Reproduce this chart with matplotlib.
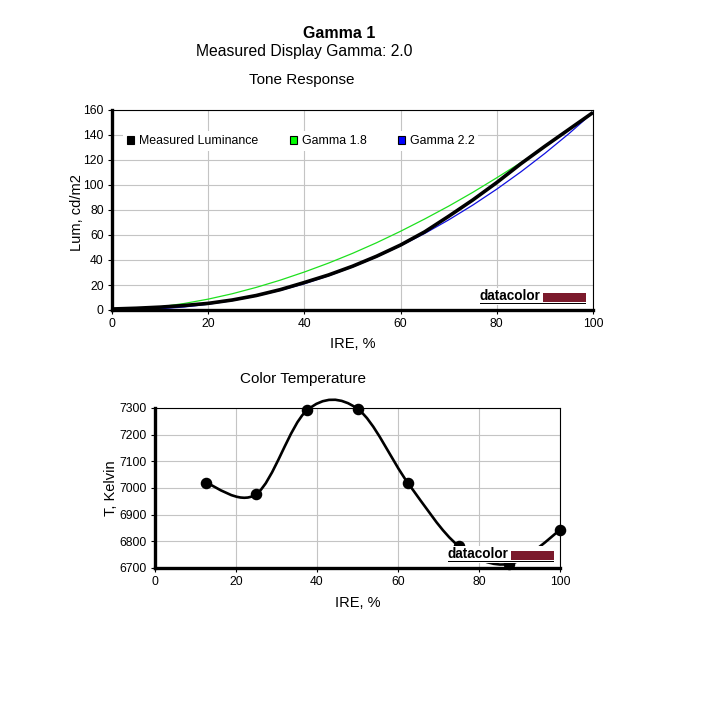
import numpy as np
import matplotlib.pyplot as plt
from matplotlib.patches import Patch, Rectangle, PathPatch
from matplotlib.path import Path

plt.rcParams['font.family'] = ['Liberation Sans', 'DejaVu Sans']

# tone response, every 5 IRE
ire = [0, 5, 10, 15, 20, 25, 30, 35, 40, 45, 50, 55, 60, 65, 70, 75, 80, 85, 90, 95, 100]
lum_measured = [0.8, 1.4, 2.3, 3.6, 5.3, 8.0, 11.6, 16.3, 22.0, 28.0, 35.0, 43.0, 52.0,
                62.5, 75.0, 88.0, 102.0, 117.0, 131.0, 144.5, 158.0]
lum_gamma18 = [0.0, 0.7, 2.5, 5.2, 8.7, 13.0, 18.1, 23.9, 30.4, 37.5, 45.3, 53.8, 63.0,
               72.8, 83.1, 94.1, 105.8, 117.9, 130.7, 144.1, 158.0]
lum_gamma22 = [0.0, 0.2, 1.0, 2.4, 4.6, 7.5, 11.2, 15.7, 21.0, 27.3, 34.4, 42.4, 51.4,
               61.2, 72.1, 83.9, 96.7, 110.5, 125.3, 141.1, 158.0]
legend_labels = ['Measured Luminance', 'Gamma 1.8', 'Gamma 2.2']

# colour temperature
ct_ire = [12.5, 25, 37.5, 50, 62.5, 75, 87.5, 100]
ct_kelvin = [7020, 6977, 7291, 7297, 7018, 6782, 6715, 6842]

W, H = 701, 715
fig = plt.figure(figsize=(W / 100, H / 100), dpi=100)


def px_box(l, t, r, b):
    return [l / W, 1 - b / H, (r - l) / W, (b - t) / H]


def style_axes(ax):
    ax.grid(True, color='#c4c4c4', linewidth=0.8)
    ax.set_axisbelow(True)
    for s in ['top', 'right']:
        ax.spines[s].set_linewidth(0.8)
    for s in ['left', 'bottom']:
        ax.spines[s].set_linewidth(2.4)
    ax.tick_params(direction='out', length=3, width=0.8, pad=3, labelsize=8.7)


def logo(ox, oy):
    # white plate, "datacolor" underlined, dark red bar
    def r(x0, y0, x1, y1, c):
        fig.add_artist(Rectangle((x0 / W, 1 - y1 / H), (x1 - x0) / W, (y1 - y0) / H,
                                 transform=fig.transFigure, facecolor=c, edgecolor='none', zorder=5))
    r(ox - 2, oy - 2, ox + 108, oy + 15, 'white')
    r(ox + 63, oy + 3, ox + 106, oy + 11.5, '#7b1a2c')
    r(ox, oy + 12.5, ox + 106, oy + 14, 'black')
    fig.text(ox / W, 1 - (oy + 10.5) / H, 'datacolor', fontsize=9.8, fontweight='bold',
             va='baseline', ha='left', zorder=6)


# titles
fig.text(339 / W, 1 - 38 / H, 'Gamma 1', ha='center', va='baseline', fontsize=11.5, fontweight='bold')
fig.text(304 / W, 1 - 56 / H, 'Measured Display Gamma: 2.0', ha='center', va='baseline', fontsize=11.3)
fig.text(302 / W, 1 - 84 / H, 'Tone Response', ha='center', va='baseline', fontsize=11)
fig.text(303 / W, 1 - 383 / H, 'Color Temperature', ha='center', va='baseline', fontsize=11)

# tone response
ax1 = fig.add_axes(px_box(112, 110, 593, 310))
style_axes(ax1)
ax1.plot(ire, lum_gamma18, color='#1ee01e', lw=0.9)
ax1.plot(ire, lum_gamma22, color='#1010e0', lw=0.9)
ax1.plot(ire, lum_measured, color='black', lw=2.6, solid_capstyle='butt')
ax1.set_xlim(0, 100)
ax1.set_ylim(0, 160)
ax1.set_xticks(range(0, 101, 20))
ax1.set_yticks(range(0, 161, 20))
ax1.set_xlabel('IRE, %', fontsize=10.5)
ax1.set_ylabel('Lum, cd/m2', fontsize=10.5)
ax1.xaxis.set_label_coords(0.5, -0.135)
ax1.yaxis.set_label_coords(-0.058, 0.4875)

handles = [Patch(facecolor=c, edgecolor='black', linewidth=0.8)
           for c in ['black', '#00ff00', '#0000ff']]
leg = ax1.legend(handles, legend_labels, ncol=3, loc='center left',
                 bbox_to_anchor=(0.0235, 0.845), borderaxespad=0, borderpad=0.3,
                 handlelength=0.6, handleheight=0.6, handletextpad=0.4,
                 columnspacing=2.5, fontsize=8.9, frameon=True, fancybox=False,
                 facecolor='white', edgecolor='none', framealpha=1)

# colour temperature
ax2 = fig.add_axes(px_box(155, 408, 560, 568))
style_axes(ax2)
pts = np.column_stack([ct_ire, ct_kelvin]).astype(float)
ext = np.vstack([pts[0], pts, pts[-1]])
verts = [pts[0]]
codes = [Path.MOVETO]
for i in range(len(pts) - 1):
    p0, p1, p2, p3 = ext[i], ext[i + 1], ext[i + 2], ext[i + 3]
    verts += [p1 + (p2 - p0) / 6, p2 - (p3 - p1) / 6, p2]
    codes += [Path.CURVE4] * 3
ax2.add_patch(PathPatch(Path(verts, codes), fill=False, lw=1.9, edgecolor='black',
                        clip_on=False, zorder=3))
ax2.plot(ct_ire, ct_kelvin, 'o', color='black', markersize=7.3, clip_on=False, zorder=4)
ax2.set_xlim(0, 100)
ax2.set_ylim(6700, 7300)
ax2.set_xticks(range(0, 101, 20))
ax2.set_yticks(range(6700, 7301, 100))
ax2.set_xlabel('IRE, %', fontsize=10.5)
ax2.set_ylabel('T, Kelvin', fontsize=10.5)
ax2.xaxis.set_label_coords(0.5, -0.175)
ax2.yaxis.set_label_coords(-0.091, 0.5)

logo(480, 290)
logo(448, 548)

fig.savefig('out.png', dpi=100, facecolor='white')
